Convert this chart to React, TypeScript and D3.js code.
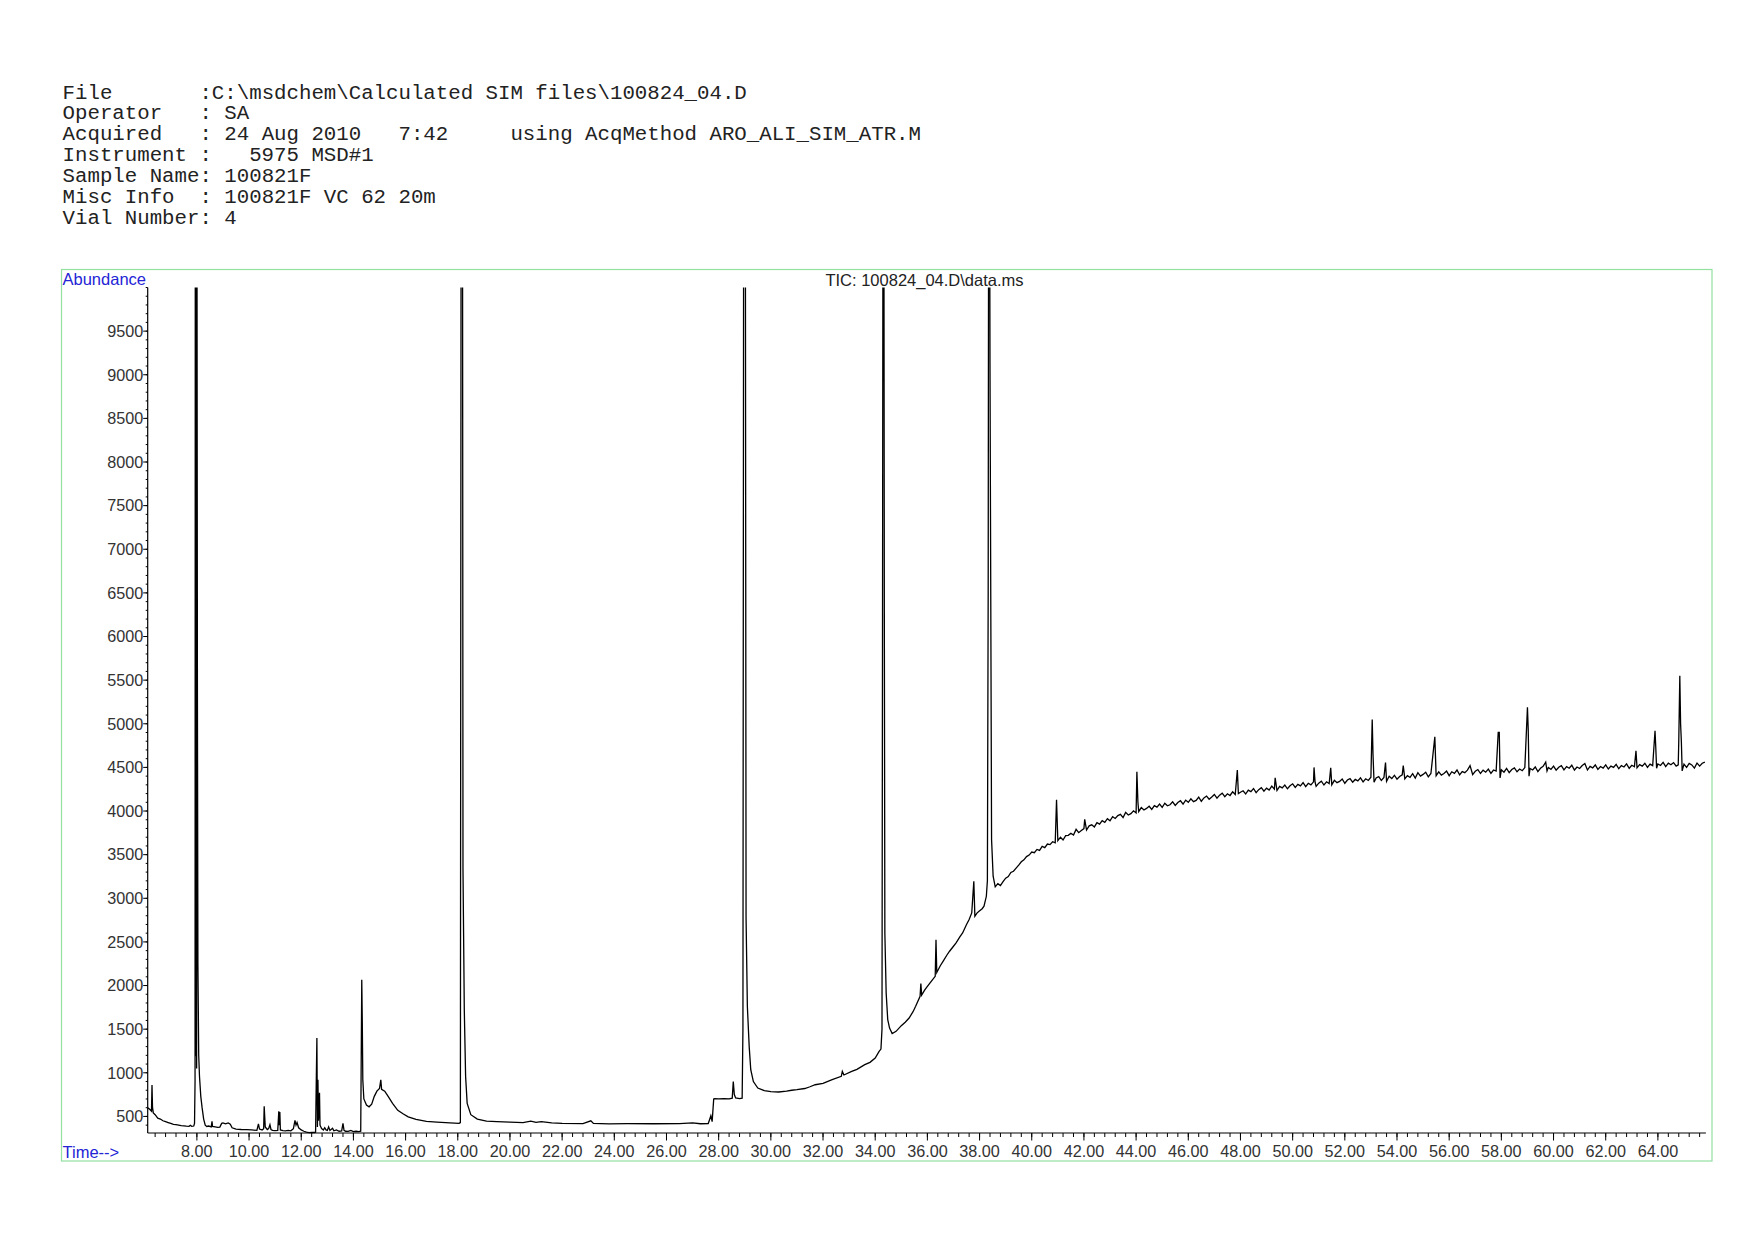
import * as d3 from 'd3';
import * as React from 'react';

const SVG_WIDTH = 1754;
const SVG_HEIGHT = 1240;

const HEADER_LINES = [
  'File       :C:\\msdchem\\Calculated SIM files\\100824_04.D',
  'Operator   : SA',
  'Acquired   : 24 Aug 2010   7:42     using AcqMethod ARO_ALI_SIM_ATR.M',
  'Instrument :   5975 MSD#1',
  'Sample Name: 100821F',
  'Misc Info  : 100821F VC 62 20m',
  'Vial Number: 4',
];

const TITLE = 'TIC: 100824_04.D\\data.ms';

const Y_TICK_LABELS = [
  '500', '1000', '1500', '2000', '2500', '3000', '3500', '4000', '4500', '5000',
  '5500', '6000', '6500', '7000', '7500', '8000', '8500', '9000', '9500',
];

const X_TICK_LABELS = [
  '8.00', '10.00', '12.00', '14.00', '16.00', '18.00', '20.00', '22.00', '24.00',
  '26.00', '28.00', '30.00', '32.00', '34.00', '36.00', '38.00', '40.00', '42.00',
  '44.00', '46.00', '48.00', '50.00', '52.00', '54.00', '56.00', '58.00', '60.00',
  '62.00', '64.00',
];

// [time (min), abundance]; 12000 means the peak runs off the top of the scale
const traceEarly: [number, number][] = [
  [6.12, 600], [6.2, 580], [6.26, 560], [6.28, 860], [6.3, 600], [6.33, 540], [6.4, 520],
  [6.5, 480], [6.6, 470], [6.7, 450], [6.8, 440], [6.9, 430], [7.0, 420], [7.1, 410],
  [7.2, 405], [7.3, 400], [7.4, 395], [7.5, 392], [7.6, 388], [7.7, 386], [7.75, 398],
  [7.8, 387], [7.88, 390], [7.91, 420], [7.93, 900], [7.94, 12000], [7.96, 1190],
  [7.97, 12000], [7.99, 1050], [8.0, 12000], [8.02, 5500], [8.04, 2230], [8.07, 1200],
  [8.1, 960], [8.15, 730], [8.2, 600], [8.26, 470], [8.32, 400], [8.38, 385], [8.45, 390],
  [8.55, 380], [8.58, 445], [8.6, 385], [8.7, 380], [8.8, 375], [8.88, 378], [8.95, 420],
  [9.0, 425], [9.1, 415], [9.2, 425], [9.28, 410], [9.35, 370], [9.5, 355], [9.7, 350],
  [9.9, 348], [10.1, 345], [10.3, 340], [10.36, 415], [10.4, 355], [10.5, 345],
  [10.56, 360], [10.58, 615], [10.62, 380], [10.7, 350], [10.75, 360], [10.8, 405],
  [10.84, 350], [10.9, 340], [11.0, 338], [11.1, 340], [11.14, 560], [11.16, 400],
  [11.18, 550], [11.2, 345], [11.3, 338], [11.4, 335], [11.5, 340], [11.6, 335],
  [11.7, 360], [11.76, 455], [11.8, 400], [11.84, 430], [11.9, 370], [12.0, 345],
  [12.1, 330], [12.2, 320], [12.3, 315], [12.4, 318], [12.5, 316], [12.55, 320],
  [12.57, 770], [12.6, 1400], [12.62, 380], [12.64, 920], [12.66, 450], [12.7, 770],
  [12.72, 400], [12.78, 360], [12.85, 345], [12.9, 370], [12.95, 345], [13.0, 340],
  [13.05, 380], [13.1, 340], [13.2, 365], [13.25, 335], [13.35, 345], [13.45, 330],
  [13.55, 335], [13.6, 420], [13.64, 340], [13.7, 330], [13.8, 328], [13.9, 340],
  [14.0, 325], [14.1, 330], [14.2, 325], [14.28, 330], [14.32, 2067], [14.34, 1590],
  [14.36, 920], [14.4, 700], [14.5, 630], [14.6, 610], [14.7, 640], [14.8, 730],
  [14.9, 790], [15.0, 820], [15.05, 920], [15.08, 810], [15.2, 790], [15.35, 720],
  [15.5, 650], [15.7, 570], [15.9, 530], [16.1, 495], [16.4, 465], [16.8, 443],
  [17.2, 435], [17.7, 425], [18.05, 420], [18.1, 430], [18.13, 12000], [18.18, 12000],
  [18.2, 3330], [18.25, 1720], [18.3, 960], [18.36, 650], [18.5, 520], [18.75, 470],
  [19.1, 445], [19.5, 440], [20.0, 435], [20.5, 430], [20.8, 445], [21.0, 432],
  [21.2, 440], [21.6, 425], [22.0, 420], [22.8, 418], [23.1, 450], [23.2, 420],
  [23.8, 415], [24.5, 418], [25.5, 416], [26.5, 418], [27.0, 425], [27.3, 416],
  [27.6, 418], [27.65, 462], [27.7, 508], [27.75, 440],
];

const traceMid: [number, number][] = [
  [27.81, 700], [27.85, 703], [28.0, 700], [28.2, 705], [28.4, 702], [28.52, 710],
  [28.56, 900], [28.6, 750], [28.65, 712], [28.8, 705], [28.9, 710], [28.93, 1500],
  [28.96, 12000], [29.02, 12000], [29.05, 2775], [29.1, 1760], [29.17, 1300],
  [29.23, 1035], [29.33, 900], [29.5, 825], [29.75, 795], [30.0, 785], [30.3, 780],
  [30.6, 790], [30.8, 800], [31.0, 806], [31.3, 820], [31.5, 840], [31.7, 863],
  [32.0, 880], [32.35, 921], [32.7, 960], [32.74, 1016], [32.8, 975], [33.1, 1016],
  [33.3, 1040], [33.6, 1093], [33.8, 1120], [34.0, 1169], [34.15, 1246], [34.22, 1272],
  [34.26, 1500], [34.28, 5950], [34.3, 12000], [34.33, 12000], [34.35, 6180],
  [34.37, 2600], [34.42, 1915], [34.48, 1610], [34.55, 1513], [34.65, 1450],
  [34.8, 1475], [35.0, 1540], [35.15, 1580], [35.3, 1628], [35.45, 1700], [35.55, 1762],
  [35.72, 1876], [35.75, 2022], [35.78, 1890], [35.9, 1950], [36.0, 1991], [36.2, 2067],
  [36.3, 2106], [36.33, 2526], [36.36, 2150], [36.5, 2230], [36.6, 2278], [36.75, 2350],
  [36.85, 2393], [37.0, 2450], [37.1, 2488], [37.25, 2560], [37.35, 2603], [37.5, 2700],
  [37.6, 2756], [37.7, 2832], [37.78, 3195], [37.82, 2794], [37.9, 2830], [37.98, 2851],
  [38.1, 2880], [38.17, 2909], [38.26, 3023], [38.3, 3200], [38.33, 6475], [38.35, 12000],
  [38.38, 12000], [38.4, 9110], [38.46, 3673], [38.52, 3253],
];

const traceLate: [number, number][] = [
  [38.6, 3131], [38.7, 3168], [38.8, 3145], [38.9, 3190], [39.0, 3230], [39.1, 3248],
  [39.2, 3296], [39.3, 3310], [39.4, 3345], [39.5, 3380], [39.6, 3418], [39.7, 3440],
  [39.8, 3478], [39.9, 3495], [40.0, 3530], [40.1, 3522], [40.2, 3560], [40.3, 3548],
  [40.4, 3595], [40.5, 3580], [40.6, 3622], [40.7, 3615], [40.8, 3648], [40.9, 3635],
  [40.95, 4130], [41.0, 3660], [41.1, 3700], [41.2, 3668], [41.3, 3718], [41.4, 3722],
  [41.5, 3745], [41.6, 3726], [41.7, 3790], [41.8, 3752], [41.9, 3778], [42.0, 3798],
  [42.03, 3905], [42.1, 3782], [42.2, 3830], [42.3, 3842], [42.4, 3818], [42.5, 3866],
  [42.6, 3850], [42.7, 3889], [42.8, 3870], [42.9, 3912], [43.0, 3888], [43.1, 3935],
  [43.2, 3915], [43.3, 3948], [43.4, 3962], [43.5, 3925], [43.6, 3985], [43.7, 3955],
  [43.8, 3970], [43.9, 4002], [44.0, 3978], [44.03, 4450], [44.07, 4100], [44.1, 3995],
  [44.2, 4040], [44.3, 4012], [44.4, 4030], [44.5, 4055], [44.6, 4018], [44.7, 4062],
  [44.8, 4045], [44.9, 4080], [45.0, 4042], [45.1, 4090], [45.2, 4060], [45.3, 4072],
  [45.4, 4105], [45.5, 4065], [45.6, 4098], [45.7, 4118], [45.8, 4080], [45.9, 4125],
  [46.0, 4100], [46.1, 4140], [46.2, 4108], [46.3, 4122], [46.4, 4160], [46.5, 4112],
  [46.6, 4150], [46.7, 4172], [46.8, 4135], [46.9, 4160], [47.0, 4190], [47.1, 4148],
  [47.2, 4182], [47.3, 4205], [47.4, 4165], [47.5, 4198], [47.6, 4178], [47.7, 4220],
  [47.8, 4190], [47.88, 4470], [47.92, 4200], [48.0, 4215], [48.1, 4232], [48.2, 4195],
  [48.3, 4240], [48.4, 4222], [48.5, 4258], [48.6, 4210], [48.7, 4245], [48.8, 4268],
  [48.9, 4228], [49.0, 4262], [49.1, 4240], [49.2, 4285], [49.3, 4250], [49.33, 4380],
  [49.4, 4235], [49.5, 4282], [49.6, 4265], [49.7, 4298], [49.8, 4255], [49.9, 4290],
  [50.0, 4312], [50.1, 4270], [50.2, 4305], [50.3, 4288], [50.4, 4325], [50.5, 4280],
  [50.6, 4318], [50.7, 4300], [50.8, 4335], [50.82, 4500], [50.86, 4330], [50.9, 4282],
  [51.0, 4320], [51.1, 4342], [51.2, 4298], [51.3, 4335], [51.4, 4315], [51.46, 4495],
  [51.5, 4300], [51.6, 4352], [51.7, 4325], [51.8, 4340], [51.9, 4368], [52.0, 4318],
  [52.1, 4355], [52.2, 4372], [52.3, 4330], [52.4, 4362], [52.5, 4345], [52.6, 4380],
  [52.7, 4335], [52.8, 4370], [52.9, 4350], [53.0, 4388], [53.05, 5050], [53.08, 4650],
  [53.12, 4330], [53.2, 4380], [53.3, 4395], [53.4, 4350], [53.5, 4385], [53.56, 4555],
  [53.6, 4340], [53.7, 4398], [53.8, 4372], [53.9, 4410], [54.0, 4365], [54.1, 4395],
  [54.2, 4415], [54.24, 4520], [54.3, 4368], [54.4, 4405], [54.5, 4385], [54.6, 4428],
  [54.7, 4378], [54.8, 4440], [54.9, 4400], [55.0, 4420], [55.1, 4445], [55.2, 4392],
  [55.3, 4430], [55.45, 4850], [55.5, 4405], [55.6, 4448], [55.7, 4412], [55.8, 4430],
  [55.9, 4458], [56.0, 4405], [56.1, 4450], [56.2, 4432], [56.3, 4470], [56.4, 4415],
  [56.5, 4452], [56.6, 4440], [56.7, 4468], [56.8, 4520], [56.9, 4418], [57.0, 4455],
  [57.1, 4475], [57.2, 4430], [57.3, 4468], [57.4, 4445], [57.5, 4480], [57.6, 4432],
  [57.7, 4470], [57.8, 4458], [57.88, 4900], [57.92, 4900], [57.95, 4380], [58.0, 4472],
  [58.1, 4445], [58.2, 4488], [58.3, 4440], [58.4, 4475], [58.5, 4495], [58.6, 4450],
  [58.7, 4482], [58.8, 4462], [58.9, 4498], [59.0, 5190], [59.03, 4930], [59.06, 4400],
  [59.1, 4488], [59.2, 4470], [59.3, 4505], [59.4, 4452], [59.5, 4490], [59.6, 4512],
  [59.7, 4560], [59.75, 4460], [59.8, 4498], [59.9, 4478], [60.0, 4515], [60.1, 4468],
  [60.2, 4502], [60.3, 4520], [60.4, 4472], [60.5, 4508], [60.6, 4490], [60.7, 4525],
  [60.8, 4470], [60.9, 4505], [61.0, 4488], [61.1, 4522], [61.2, 4545], [61.3, 4470],
  [61.4, 4512], [61.5, 4495], [61.6, 4528], [61.7, 4478], [61.8, 4510], [61.9, 4492],
  [62.0, 4530], [62.1, 4482], [62.2, 4515], [62.3, 4500], [62.4, 4535], [62.5, 4485],
  [62.6, 4520], [62.7, 4505], [62.8, 4540], [62.9, 4490], [63.0, 4525], [63.1, 4508],
  [63.16, 4690], [63.2, 4495], [63.3, 4532], [63.4, 4515], [63.5, 4548], [63.6, 4500],
  [63.7, 4538], [63.8, 4520], [63.89, 4920], [63.92, 4720], [63.95, 4490], [64.0, 4540],
  [64.1, 4522], [64.2, 4558], [64.3, 4510], [64.4, 4548], [64.5, 4530], [64.6, 4555],
  [64.7, 4515], [64.78, 4530], [64.8, 4800], [64.84, 5550], [64.87, 5000], [64.9, 4790],
  [64.93, 4460], [65.0, 4538], [65.1, 4500], [65.2, 4545], [65.3, 4528], [65.4, 4492],
  [65.5, 4550], [65.6, 4515], [65.7, 4548], [65.8, 4560],
];

const SANS = "'Liberation Sans', Arial, sans-serif";
const MONO = "'Liberation Mono', 'Courier New', monospace";

export default function App() {
  const x = d3.scaleLinear().domain([6.115, 65.84]).range([147.7, 1705.9]);
  const y = d3.scaleLinear().domain([310, 10000]).range([1133, 287.5]);

  const trace = [...traceEarly, ...traceMid, ...traceLate];
  const line = d3
    .line<[number, number]>()
    .x(d => x(d[0]))
    .y(d => y(d[1]));

  const [x0, x1] = x.range();
  const [yBottom, yTop] = y.range();

  const yMinor = d3.range(4, 101).map(i => i * 100);
  const xMinor = d3.range(16, 165).map(i => i * 0.4).filter(t => t <= 65.8);

  return (
    <svg
      width={SVG_WIDTH}
      height={SVG_HEIGHT}
      viewBox={`0 0 ${SVG_WIDTH} ${SVG_HEIGHT}`}
      style={{ position: 'absolute', left: 0, top: 0, background: '#fff' }}
    >
      <defs>
        <clipPath id="plot-clip">
          <rect x={x0 - 2} y={yTop} width={x1 - x0 + 6} height={yBottom - yTop + 2} />
        </clipPath>
      </defs>

      {/* header block */}
      <g fontFamily={MONO} fontSize={19.5} fill="#222" style={{ whiteSpace: 'pre' }}>
        {HEADER_LINES.map((s, i) => (
          <text
            key={i}
            x={62.6}
            y={98.5 + i * 20.86}
            textLength={s.length * 12.44}
            lengthAdjust="spacingAndGlyphs"
            xmlSpace="preserve"
          >
            {s}
          </text>
        ))}
      </g>

      {/* frame */}
      <rect x={61.5} y={269.5} width={1650.5} height={891.5} fill="none" stroke="#93e0a0" strokeWidth={1.2} />

      <text x={62.5} y={284.5} fontFamily={SANS} fontSize={16.5} fill="#2424d6">
        Abundance
      </text>
      <text x={924.5} y={285.5} fontFamily={SANS} fontSize={16.5} fill="#222" textAnchor="middle">
        {TITLE}
      </text>
      <text x={62.5} y={1158} fontFamily={SANS} fontSize={16.5} fill="#2424d6">
        Time--&gt;
      </text>

      {/* y axis */}
      <line x1={x0} x2={x0} y1={yBottom} y2={yTop} stroke="#000" strokeWidth={1.2} />
      {yMinor.map(v => (
        <line key={v} x1={x0 - 2} x2={x0} y1={y(v)} y2={y(v)} stroke="#000" strokeWidth={1} />
      ))}
      {Y_TICK_LABELS.map(s => (
        <g key={s}>
          <line x1={x0 - 4.5} x2={x0} y1={y(+s)} y2={y(+s)} stroke="#000" strokeWidth={1} />
          <text
            x={x0 - 4.5}
            y={y(+s)}
            dy="0.36em"
            textAnchor="end"
            fontFamily={SANS}
            fontSize={16.2}
            fill="#333"
          >
            {s}
          </text>
        </g>
      ))}

      {/* x axis */}
      <line x1={x0} x2={x1} y1={yBottom} y2={yBottom} stroke="#000" strokeWidth={1.2} />
      {xMinor.map(t => (
        <line key={t} x1={x(t)} x2={x(t)} y1={yBottom} y2={yBottom + 4} stroke="#000" strokeWidth={1} />
      ))}
      {X_TICK_LABELS.map(s => (
        <g key={s}>
          <line x1={x(+s)} x2={x(+s)} y1={yBottom} y2={yBottom + 7.5} stroke="#000" strokeWidth={1} />
          <text
            x={x(+s)}
            y={1157}
            textAnchor="middle"
            fontFamily={SANS}
            fontSize={16.2}
            fill="#333"
          >
            {s}
          </text>
        </g>
      ))}

      {/* TIC trace */}
      <path
        d={line(trace) ?? ''}
        fill="none"
        stroke="#000"
        strokeWidth={1.3}
        strokeLinejoin="miter"
        clipPath="url(#plot-clip)"
      />
    </svg>
  );
}
